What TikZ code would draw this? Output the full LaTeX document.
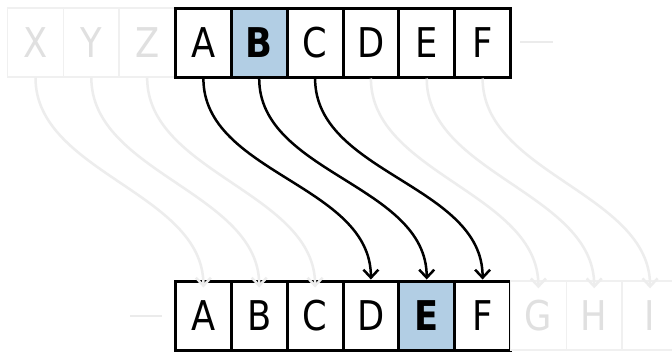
\documentclass[tikz,border=0pt]{standalone}
\usepackage{fontspec}
\newfontfamily\cellfont[FakeStretch=0.86]{DejaVu Sans}
\usetikzlibrary{arrows.meta}
\definecolor{hilite}{RGB}{178,206,228}
\tikzset{
  cell/.style={draw, line width=3pt, minimum width=55.8pt, minimum height=69pt,
    inner sep=0pt, fill=white, font=\cellfont\fontsize{41}{41}\selectfont},
  ghost/.style={cell, draw=black!6, text=black!12, line width=1.5pt},
  hot/.style={fill=hilite, font=\cellfont\bfseries\fontsize{41}{41}\selectfont},
  shiftarrow/.style={line width=2.5pt,
    -{Straight Barb[length=8pt,width=15pt,line width=2.5pt]}},
  faintarrow/.style={shiftarrow, draw=black!7},
  faintdash/.style={draw=black!8, line width=2pt}
}
\begin{document}
\begin{tikzpicture}[x=1pt,y=-1pt]
\useasboundingbox[fill=white] (0,0) rectangle (672,354);
% plain alphabet (top) and shifted alphabet (bottom)
\foreach \L [count=\i from 0] in {X,Y,Z} {
  \node[ghost] (t\i) at (35.5+55.83*\i,42.5) {\L};
}
\node[cell] (t3) at (203.4,42.5) {A};
\node[cell,hot] (t4) at (259.2,42.5) {B};
\node[cell] (t5) at (315.1,42.5) {C};
\node[cell] (t6) at (370.9,42.5) {D};
\node[cell] (t7) at (426.7,42.5) {E};
\node[cell] (t8) at (482.6,42.5) {F};

\node[cell] (b0) at (203.4,315.5) {A};
\node[cell] (b1) at (259.2,315.5) {B};
\node[cell] (b2) at (315.1,315.5) {C};
\node[cell] (b3) at (370.9,315.5) {D};
\node[cell,hot] (b4) at (426.7,315.5) {E};
\node[cell] (b5) at (482.6,315.5) {F};
\foreach \L [count=\i from 6] in {G,H,I} {
  \node[ghost] (b\i) at (203.4+55.83*\i,315.5) {\L};
}
% continuation dashes
\coordinate (tr1) at (520,42); \coordinate (tr2) at (553,42);
\coordinate (bl1) at (130,316); \coordinate (bl2) at (162,316);
\draw[faintdash] (tr1) -- (tr2);
\draw[faintdash] (bl1) -- (bl2);
% faint shifts for the neighbouring letters
\foreach \a/\b in {0/0,1/1,2/2,6/6,7/7,8/8} {
  \draw[faintarrow] (t\a.south) .. controls +(0,95) and +(0,-95) .. ([yshift=-8pt]b\b.north);
}
% the three highlighted shifts
\foreach \a/\b in {3/3,4/4,5/5} {
  \draw[shiftarrow] (t\a.south) .. controls +(0,95) and +(0,-95) .. (b\b.north);
}
\end{tikzpicture}
\end{document}
